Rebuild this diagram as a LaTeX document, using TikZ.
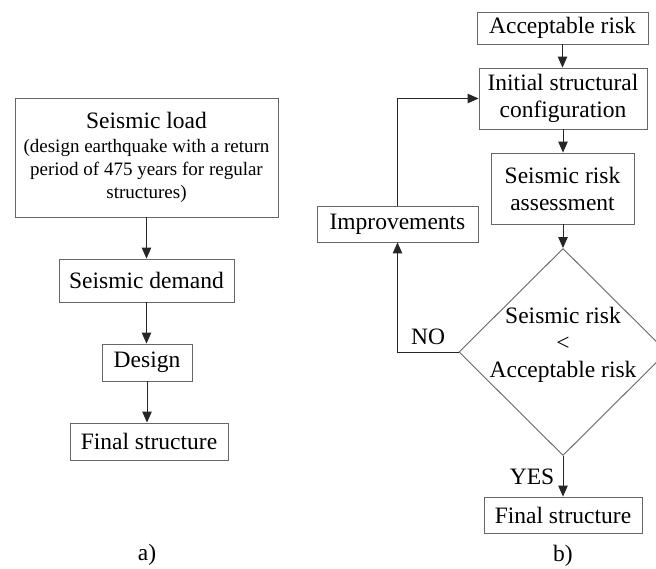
\documentclass[tikz,border=0pt]{standalone}
\usepackage{fontspec}
\setmainfont{Liberation Serif}
\usetikzlibrary{arrows.meta,shapes.geometric}
\begin{document}
\begin{tikzpicture}[x=1pt,y=-1pt,
  box/.style={draw=black!60,line width=0.9pt,inner sep=0pt,align=center,
    font=\fontsize{23.5}{27}\selectfont},
  conn/.style={line width=1pt,draw=black!85,-{Triangle[length=11pt,width=9.5pt]}},
  lbl/.style={font=\fontsize{23.5}{27}\selectfont,inner sep=0pt}]
\fill[white] (0,0) rectangle (656,568);
\useasboundingbox (0,0) rectangle (656,568);
% a)
\node[box,minimum width=263pt,minimum height=119pt] (load) at (146.5,157.5)
  {Seismic load\\[-3pt]{\fontsize{19}{22.5}\selectfont (design earthquake with a return}\\[-4pt]
   {\fontsize{19}{22.5}\selectfont period of 475 years for regular}\\[-4pt]
   {\fontsize{19}{22.5}\selectfont structures)}};
\node[box,minimum width=175pt,minimum height=43pt] (demand) at (146.5,280.5) {Seismic demand};
\node[box,minimum width=90pt,minimum height=37pt] (design) at (147,362.5) {Design};
\node[box,minimum width=158pt,minimum height=37pt] (finalA) at (149,441.5) {Final structure};
\node[lbl] (la) at (147,555) {a)};
\draw[conn] (load.south -| demand.north) -- (demand.north);
\draw[conn] (demand.south) -- (demand.south |- design.north);
\draw[conn] (design.south) -- (design.south |- finalA.north);
% b)
\node[box,minimum width=171pt,minimum height=32pt] (accept) at (562.5,28) {Acceptable risk};
\node[box,minimum width=168pt,minimum height=61pt] (init) at (563,98.5) {Initial structural\\configuration};
\node[box,minimum width=143pt,minimum height=71pt] (assess) at (562.5,188.5) {Seismic risk\\assessment};
\node[box,minimum width=161pt,minimum height=36pt] (improve) at (397.5,224) {Improvements};
\node[draw=black!60,line width=0.9pt,diamond,minimum width=208pt,minimum height=207pt,inner sep=0pt] (dec) at (563,352) {};
\node[lbl,align=center] (dectext) at (563,345) {Seismic risk\\{<}\\Acceptable risk};
\node[box,minimum width=158pt,minimum height=36pt] (finalB) at (563,515) {Final structure};
\node[lbl] (lb) at (563,556) {b)};
\node[lbl] (no) at (428,337) {NO};
\node[lbl] (yes) at (532,477) {YES};
\draw[conn] (accept.south) -- (accept.south |- init.north);
\draw[conn] (init.south) -- (init.south |- assess.north);
\draw[conn] (assess.south -| dec.north) -- (dec.north);
\draw[conn] (dec.south) -- (dec.south |- finalB.north);
\draw[conn] (dec.west) -| (improve.south);
\draw[conn] (improve.north) |- (init.west);
\end{tikzpicture}
\end{document}
